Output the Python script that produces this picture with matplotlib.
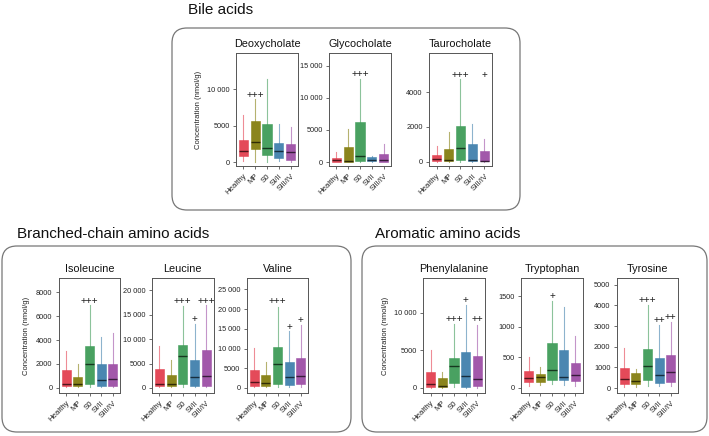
import matplotlib
matplotlib.use("Agg")
import matplotlib.pyplot as plt
from matplotlib.patches import FancyBboxPatch
from matplotlib.ticker import FuncFormatter
import numpy as np

plt.rcParams['font.family'] = ['Liberation Sans', 'DejaVu Sans']

groups = ["Healthy", "MP", "S0", "SI/II", "SIII/IV"]
colors = ["#e34050", "#857f10", "#3f9c58", "#4181ad", "#9d4fa6"]

# ---- data ----
deoxy_q1 = [780, 1835, 1010, 550, 230]
deoxy_med = [1514, 2700, 1970, 1500, 1330]
deoxy_q3 = [3073, 5600, 5275, 2660, 2480]
deoxy_lo = [100, 0, 0, 200, 50]
deoxy_hi = [6514, 8620, 11470, 5275, 4820]
deoxy_sig = ["", "+++", "", "", ""]
deoxy_sig_y = [0, 9270, 0, 0, 0]

glyco_q1 = [0, 80, 100, 100, 50]
glyco_med = [360, 150, 1000, 360, 310]
glyco_q3 = [680, 2350, 6220, 730, 1200]
glyco_lo = [0, 0, 0, 50, 0]
glyco_hi = [1570, 5170, 13000, 880, 2770]
glyco_sig = ["", "", "+++", "", ""]
glyco_sig_y = [0, 0, 13800, 0, 0]

tauro_q1 = [20, 20, 80, 20, 10]
tauro_med = [170, 80, 770, 110, 60]
tauro_q3 = [400, 710, 2060, 1000, 615]
tauro_lo = [0, 0, 0, 0, 0]
tauro_hi = [920, 1710, 4730, 2190, 1310]
tauro_sig = ["", "", "+++", "", "+"]
tauro_sig_y = [0, 0, 4980, 0, 4960]

iso_q1 = [140, 140, 300, 140, 170]
iso_med = [360, 310, 1990, 640, 730]
iso_q3 = [1480, 950, 3500, 1990, 1990]
iso_lo = [50, 50, 100, 50, 50]
iso_hi = [3100, 2040, 6910, 4220, 4620]
iso_sig = ["", "", "+++", "", ""]
iso_sig_y = [0, 0, 7270, 0, 0]

leu_q1 = [410, 410, 890, 410, 410]
leu_med = [890, 760, 6460, 2200, 2400]
leu_q3 = [3850, 2610, 8730, 5640, 7770]
leu_lo = [100, 100, 200, 100, 100]
leu_hi = [8590, 5700, 16700, 13060, 16980]
leu_sig = ["", "", "+++", "+", "+++"]
leu_sig_y = [0, 0, 17730, 14090, 17730]

val_q1 = [510, 510, 940, 770, 940]
val_med = [1530, 1280, 6040, 2720, 2980]
val_q3 = [4500, 3400, 10460, 6550, 7570]
val_lo = [200, 200, 300, 200, 300]
val_hi = [10030, 6630, 20660, 14500, 16000]
val_sig = ["", "", "+++", "+", "+"]
val_sig_y = [0, 0, 21940, 15400, 17180]

phe_q1 = [130, 130, 670, 130, 270]
phe_med = [580, 270, 2990, 1560, 1250]
phe_q3 = [2100, 1290, 3970, 4780, 4200]
phe_lo = [50, 50, 100, 50, 50]
phe_hi = [5040, 2140, 8480, 10980, 8390]
phe_sig = ["", "", "+++", "+", "++"]
phe_sig_y = [0, 0, 9150, 11740, 9150]

trp_q1 = [94, 94, 121, 121, 116]
trp_med = [160, 171, 298, 171, 204]
trp_q3 = [276, 232, 728, 617, 413]
trp_lo = [30, 40, 60, 40, 30]
trp_hi = [507, 342, 1417, 1334, 849]
trp_sig = ["", "", "+", "", ""]
trp_sig_y = [0, 0, 1510, 0, 0]

tyr_q1 = [180, 180, 410, 260, 290]
tyr_med = [440, 360, 1055, 620, 760]
tyr_q3 = [974, 750, 1900, 1430, 1610]
tyr_lo = [50, 50, 100, 80, 80]
tyr_hi = [1960, 940, 4030, 3040, 3200]
tyr_sig = ["", "", "+++", "++", "++"]
tyr_sig_y = [0, 0, 4270, 3300, 3460]

W, H = 709, 436
fig = plt.figure(figsize=(W / 100, H / 100), dpi=100)

def px_axes(x0, y0, x1, y1):
    return fig.add_axes([x0 / W, 1 - y1 / H, (x1 - x0) / W, (y1 - y0) / H])

def darken(c, f=0.35):
    r, g, b = matplotlib.colors.to_rgb(c)
    return (r * f, g * f, b * f)

def fmt(v, pos):
    v = int(round(v))
    if abs(v) >= 10000:
        return f"{v:,}".replace(",", " ")
    return str(v)

panels = [
    ("Deoxycholate", (236, 53, 298, 166), deoxy_q1, deoxy_med, deoxy_q3, deoxy_lo, deoxy_hi, deoxy_sig, deoxy_sig_y, (-550, 15000), [0, 5000, 10000], True),
    ("Glycocholate", (329, 53, 391, 166), glyco_q1, glyco_med, glyco_q3, glyco_lo, glyco_hi, glyco_sig, glyco_sig_y, (-620, 17000), [0, 5000, 10000, 15000], False),
    ("Taurocholate", (429, 53, 492, 166), tauro_q1, tauro_med, tauro_q3, tauro_lo, tauro_hi, tauro_sig, tauro_sig_y, (-250, 6240), [0, 2000, 4000], False),
    ("Isoleucine", (58.7, 278, 120.3, 393), iso_q1, iso_med, iso_q3, iso_lo, iso_hi, iso_sig, iso_sig_y, (-420, 9175), [0, 2000, 4000, 6000, 8000], True),
    ("Leucine", (152, 278, 213.7, 393), leu_q1, leu_med, leu_q3, leu_lo, leu_hi, leu_sig, leu_sig_y, (-1030, 22540), [0, 5000, 10000, 15000, 20000], False),
    ("Valine", (246.7, 278, 308.3, 393), val_q1, val_med, val_q3, val_lo, val_hi, val_sig, val_sig_y, (-1280, 27890), [0, 5000, 10000, 15000, 20000, 25000], False),
    ("Phenylalanine", (423.3, 278, 484.7, 393), phe_q1, phe_med, phe_q3, phe_lo, phe_hi, phe_sig, phe_sig_y, (-670, 14640), [0, 5000, 10000], True),
    ("Tryptophan", (521.3, 278, 582.7, 393), trp_q1, trp_med, trp_q3, trp_lo, trp_hi, trp_sig, trp_sig_y, (-88, 1803), [0, 500, 1000, 1500], False),
    ("Tyrosine", (616.7, 278, 678.3, 393), tyr_q1, tyr_med, tyr_q3, tyr_lo, tyr_hi, tyr_sig, tyr_sig_y, (-240, 5325), [0, 1000, 2000, 3000, 4000, 5000], False),
]

spine_c = "#555555"
for (title, box, q1, med, q3, lo, hi, sig, sig_y, ylim, yticks, ylab) in panels:
    ax = px_axes(*box)
    stats = [dict(q1=a, med=m, q3=b, whislo=l, whishi=h, label=g)
             for a, m, b, l, h, g in zip(q1, med, q3, lo, hi, groups)]
    pos = np.arange(1, len(groups) + 1)
    bp = ax.bxp(stats, positions=pos, widths=0.78, patch_artist=True,
                showcaps=False, showfliers=False)
    for i, c in enumerate(colors):
        bp['boxes'][i].set_facecolor(c)
        bp['boxes'][i].set_edgecolor(c)
        bp['boxes'][i].set_linewidth(0.4)
        bp['boxes'][i].set_alpha(0.95)
        bp['medians'][i].set_color(darken(c))
        bp['medians'][i].set_linewidth(1.0)
        for w in bp['whiskers'][2 * i:2 * i + 2]:
            w.set_color(c)
            w.set_alpha(0.6)
            w.set_linewidth(0.8)
    for p, s, y in zip(pos, sig, sig_y):
        if s:
            ax.text(p, y, s, ha='center', va='center', fontsize=7.2, color='#222222')
    ax.set_xlim(0.37, 5.63)
    ax.set_ylim(*ylim)
    ax.set_yticks(yticks)
    ax.yaxis.set_major_formatter(FuncFormatter(fmt))
    ax.set_xticks(pos)
    ax.set_xticklabels(groups, rotation=45, ha='right', rotation_mode='anchor')
    ax.tick_params(axis='y', labelsize=5.3)
    ax.tick_params(axis='x', labelsize=5.6)
    ax.tick_params(axis='both', length=2.5, width=0.6, color=spine_c, pad=2, labelcolor='#222222')
    for sp in ax.spines.values():
        sp.set_color(spine_c)
        sp.set_linewidth(0.7)
    ax.set_title(title, fontsize=7.8, pad=4, color='#111111')
    if ylab:
        ax.set_ylabel("Concentration (nmol/g)", fontsize=5.5, color='#222222', labelpad=4)

# group frames (pixel coords -> inches)
def frame(x0, y0, x1, y1):
    p = FancyBboxPatch((x0 / 100, (H - y1) / 100), (x1 - x0) / 100, (y1 - y0) / 100,
                       boxstyle="round,pad=0,rounding_size=0.15",
                       transform=fig.dpi_scale_trans, facecolor='none',
                       edgecolor='#777777', linewidth=0.9)
    fig.add_artist(p)

frame(172, 28, 520, 210)
frame(2, 246, 351, 432)
frame(362, 246, 707, 432)

fig.text(188 / W, 1 - 10 / H, "Bile acids", fontsize=11, va='center', ha='left', color='#111111')
fig.text(17 / W, 1 - 234 / H, "Branched-chain amino acids", fontsize=11, va='center', ha='left', color='#111111')
fig.text(375 / W, 1 - 234 / H, "Aromatic amino acids", fontsize=11, va='center', ha='left', color='#111111')

fig.savefig("out.png", dpi=100)
